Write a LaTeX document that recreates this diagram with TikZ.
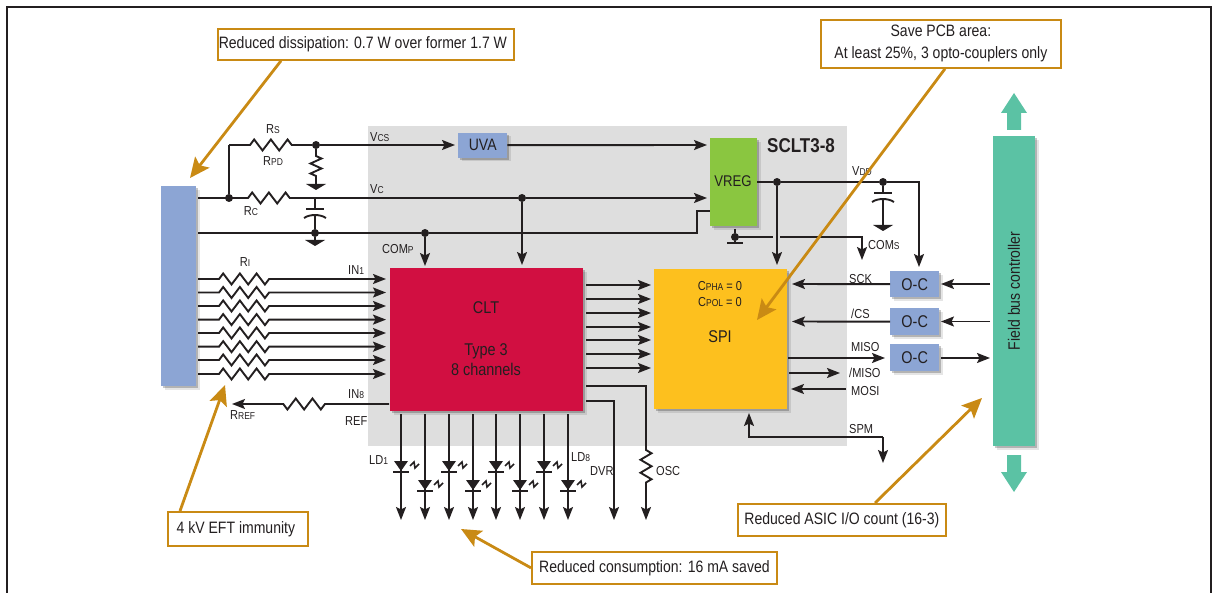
\documentclass[tikz,border=0pt]{standalone}
\usepackage{fontspec}
\setmainfont[FakeStretch=0.85]{Liberation Sans}
\usetikzlibrary{arrows.meta,decorations.pathmorphing,shadows,calc}
\definecolor{gold}{HTML}{C98A14}
\definecolor{tintblue}{HTML}{8CA5D4}
\definecolor{cltred}{HTML}{D10F41}
\definecolor{spiyel}{HTML}{FDC01E}
\definecolor{vgreen}{HTML}{8AC640}
\definecolor{teal2}{HTML}{5BC2A4}
\definecolor{panel}{HTML}{DEDEDE}
\definecolor{ink}{HTML}{231F20}
\newcommand{\sm}[1]{{\fontsize{10pt}{10pt}\selectfont #1}}
\tikzset{
 wire/.style={draw=ink,line width=1.9pt},
 arr/.style={wire,-{Stealth[length=13pt,width=10pt,inset=2.5pt]}},
 rarr/.style={wire,{Stealth[length=13pt,width=10pt,inset=2.5pt]}-},
 dot/.style={circle,fill=ink,inner sep=0pt,minimum size=8pt},
 res/.style={decoration={zigzag,segment length=16.7pt,amplitude=5.5pt}},
 vres/.style={decoration={zigzag,segment length=10pt,amplitude=5.5pt}},
 blockb/.style={rectangle,inner sep=0pt,anchor=north west,
   drop shadow={shadow xshift=3.5pt,shadow yshift=-3.5pt,opacity=.1,fill=black},
   drop shadow={shadow xshift=2pt,shadow yshift=-2pt,opacity=.22,fill=black}},
 call/.style={draw=gold,fill=white,line width=1.8pt,font=\fontsize{16.5pt}{22pt}\selectfont,align=center,inner sep=0pt,anchor=north west,text=ink},
 goldarr/.style={draw=gold,line width=2.8pt,-{Stealth[length=20pt,width=18pt,inset=4pt]}},
 lab/.style={font=\fontsize{13pt}{14pt}\selectfont,text=ink,inner sep=0pt},
 blk/.style={font=\fontsize{17pt}{20pt}\selectfont,text=ink,align=center,inner sep=0pt},
 gnd/.style={fill=ink,draw=none},
 capw/.style={draw=ink,line width=1.9pt},
 led/.style={fill=ink,draw=none},
 ledmark/.style={draw=ink,line width=1.6pt},
}
\newcommand{\gndat}[1]{\fill[gnd] ($(#1)+(-10,0)$) -- ($(#1)+(10,0)$) -- ($(#1)+(0,6)$) -- cycle;}
\newcommand{\capat}[1]{%
 \draw[capw] ($(#1)+(-9,0)$) -- ($(#1)+(9,0)$);
 \draw[capw] ($(#1)+(-11,9)$) .. controls ($(#1)+(-5,5)$) and ($(#1)+(5,5)$) .. ($(#1)+(11,9)$);}
\newcommand{\ledat}[1]{%
 \fill[led] ($(#1)+(-7,0)$) -- ($(#1)+(7,0)$) -- ($(#1)+(0,10)$) -- cycle;
 \draw[ledmark] ($(#1)+(-8,11)$) -- ($(#1)+(8,11)$);
 \draw[ledmark] ($(#1)+(9,5)$) -- ($(#1)+(13,1)$) -- ($(#1)+(14,7)$) -- ($(#1)+(18,3)$);}
\begin{document}
\begin{tikzpicture}[x=1pt,y=-1pt]
\useasboundingbox (0,0) rectangle (1218,593);
% frame
\coordinate (fa) at (7,593); \coordinate (fb) at (7,7); \coordinate (fc) at (1211,7); \coordinate (fd) at (1211,593);
\draw[ink,line width=2pt] (fa) -- (fb) -- (fc) -- (fd);
% panel
\node[fill=panel,inner sep=0pt,minimum width=479pt,minimum height=320pt,anchor=north west] (panel) at (368,126) {};
% blocks
\node[blockb,fill=tintblue,minimum width=35pt,minimum height=200pt] (conn) at (161,186) {};
\node[blockb,fill=tintblue,minimum width=49pt,minimum height=25pt] (uva) at (458,132.5) {};
\node[blk,font=\fontsize{16.5pt}{20pt}\selectfont] (uvat) at (uva.center) {UVA};
\node[blockb,fill=vgreen,minimum width=47pt,minimum height=88pt] (vreg) at (710,138) {};
\node[blk,font=\fontsize{15.5pt}{20pt}\selectfont] (vregt) at (733,181) {VREG};
\node[blockb,fill=cltred,minimum width=193pt,minimum height=143pt] (clt) at (390,268) {};
\node[blk] (clttxt) at (486,308) {CLT};
\node[blk] (clttxt2) at (486,360) {Type 3\\8 channels};
\node[blockb,fill=spiyel,minimum width=133pt,minimum height=140pt] (spi) at (654,269) {};
\node[blk] (spitxt) at (720,337) {SPI};
\node[lab] (cpha) at (720,286) {C\sm{PHA} = 0};
\node[lab] (cpol) at (720,302) {C\sm{POL} = 0};
\node[blockb,fill=teal2,minimum width=42pt,minimum height=310pt] (bus) at (993,136) {};
\node[blk,rotate=90,font=\fontsize{16.5pt}{16pt}\selectfont] (bustxt) at (1014,291) {Field bus controller};
\node[blockb,fill=tintblue,minimum width=49pt,minimum height=26pt] (oc1) at (890,271) {};
\node[blockb,fill=tintblue,minimum width=49pt,minimum height=27pt] (oc2) at (890,308) {};
\node[blockb,fill=tintblue,minimum width=49pt,minimum height=27pt] (oc3) at (890,344) {};
\node[blk] (oct1) at (oc1.center) {O-C};
\node[blk] (oct2) at (oc2.center) {O-C};
\node[blk] (oct3) at (oc3.center) {O-C};
% green double arrows
\coordinate (upa) at (1014,93); \coordinate (dna) at (1014,492);
\fill[teal2] (upa) -- ++(13,20) -- ++(-6,0) -- ++(0,17) -- ++(-14,0) -- ++(0,-17) -- ++(-6,0) -- cycle;
\fill[teal2] (dna) -- ++(13,-20) -- ++(-6,0) -- ++(0,-17) -- ++(-14,0) -- ++(0,17) -- ++(-6,0) -- cycle;
% top wires
\coordinate (ja) at (229,145); \node[dot] (jb) at (229,198) {};
\node[dot] (jc) at (316,145) {};
\draw[wire] (ja) -- (250,145) decorate[res,decoration={zigzag}] {-- (300,145)} -- (jc);
\draw[wire] (jb) -- (ja);
\draw[arr] (jc) -- (455,145);
\draw[arr] (uva.east) -- (707,145);
\coordinate (rg) at (316,184);
\draw[wire] (jc) -- (316,156) decorate[vres,decoration={zigzag}] {-- (316,178)} -- (rg);
\gndat{rg}
% Vc
\coordinate (cl) at (198,198);
\node[dot] (jd) at (522,198) {};
\draw[wire] (cl) -- (248,198) decorate[res,decoration={zigzag}] {-- (298,198)} -- (jd);
\draw[arr] (jd) -- (707,198);
\draw[arr] (jd) -- (522,265);
\coordinate (c1) at (315,209);
\node[dot] (je) at (315,233) {};
\draw[wire] (315,198) -- (c1);
\capat{c1}
\draw[wire] (315,215) -- (je) -- (315,240);
\coordinate (g2) at (315,240); \gndat{g2}
% COMp
\coordinate (cm) at (198,233);
\node[dot] (jf) at (425,233) {};
\draw[wire] (cm) -- (jf) -- (697,233) -- (697,211) -- (710,211);
\draw[arr] (jf) -- (425,266);
% inputs
\foreach \i/\y in {1/279,2/292.5,3/306,4/319.6,5/333,6/346.7,7/360,8/374}{
  \draw[arr] (198,\y) -- (219,\y) decorate[res,decoration={zigzag}] {-- (270,\y)} -- (386,\y);
}
% ref
\draw[arr] (389,404) -- (325,404) decorate[res,decoration={zigzag}] {-- (276,404)} -- (232,404);
% CLT to SPI
\foreach \y in {285,299,313,327,340,354,368}{\draw[arr] (586,\y) -- (651,\y);}
% DVR and OSC
\draw[arr] (586,401) -- (614,401) -- (614,520);
\draw[arr] (586,386) -- (646,386) -- (646,450) decorate[vres,decoration={zigzag,segment length=13pt}] {-- (646,488)} -- (646,520);
% LEDs
\foreach \x/\y in {401/461,425/480,449/461,473/480,496/461,520/480,544/461,568/480}{
  \draw[arr] (\x,414) -- (\x,520);
  \coordinate (ld) at (\x,\y);
  \ledat{ld}
}
% VDD
\node[dot] (jg) at (777,182) {};
\node[dot] (jh) at (883,182) {};
\draw[wire] (vreg.east |- jg) -- (jg) -- (jh);
\draw[arr] (jh) -- (919,182) -- (919,267);
\draw[arr] (jg) -- (777,265);
\coordinate (c2) at (883,193);
\draw[wire] (jh) -- (c2);
\capat{c2}
\coordinate (g3) at (883,225);
\draw[wire] (883,199) -- (g3);
\gndat{g3}
% COMs
\node[dot] (ji) at (735,237) {};
\draw[wire] (735,229) -- (ji) -- (735,243);
\coordinate (t1) at (735,243);
\draw[wire] (727,243) -- (743,243);
\draw[wire] (ji) -- (773,237);
\draw[arr] (780,237) -- (862,237) -- (862,260);
% SPI right
\draw[arr] (oc1.west) -- (792,284);
\draw[arr] (oc2.west) -- (792,321.5);
\draw[arr] (788,358) -- (885,358);
\draw[arr] (789,373) -- (840,373);
\draw[arr] (846,389) -- (791,389);
\draw[arr] (990,284) -- (941,284);
\draw[arr] (990,321.5) -- (941,321.5);
\draw[arr] (941,358) -- (990,358);
\draw[rarr] (749,413) -- (749,437) -- (883,437);
\draw[arr] (883,437) -- (883,463);
% labels
\node[lab] (l1) at (273,129) {R\sm{S}};
\node[lab] (l2) at (273,161) {R\sm{PD}};
\node[lab] (l3) at (251,211) {R\sm{C}};
\node[lab,anchor=west] (l4) at (370,137) {V\sm{CS}};
\node[lab,anchor=west] (l5) at (370,189) {V\sm{C}};
\node[lab,anchor=west] (l6) at (382,249) {COM\sm{P}};
\node[lab] (l7) at (245,262) {R\sm{I}};
\node[lab,anchor=west] (l8) at (348,270) {IN\sm{1}};
\node[lab,anchor=west] (l9) at (348,394) {IN\sm{8}};
\node[lab,anchor=west] (l10) at (345,421) {REF};
\node[lab,anchor=west] (l11) at (230,415) {R\sm{REF}};
\node[lab,anchor=west] (l12) at (369,460) {LD\sm{1}};
\node[lab,anchor=west] (l13) at (571,457) {LD\sm{8}};
\node[lab,anchor=west] (l14) at (590,471) {DVR};
\node[lab,anchor=west] (l15) at (656,471) {OSC};
\node[lab,anchor=west] (l16) at (852,171) {V\sm{DD}};
\node[lab,anchor=west] (l17) at (868,245) {COM\sm{S}};
\node[lab,anchor=west] (l18) at (849,279) {SCK};
\node[lab,anchor=west] (l19) at (851,314) {/CS};
\node[lab,anchor=west] (l20) at (851,347) {MISO};
\node[lab,anchor=west] (l21) at (849,373) {/MISO};
\node[lab,anchor=west] (l22) at (851,391) {MOSI};
\node[lab,anchor=west] (l23) at (849,429) {SPM};
\node[font=\bfseries\fontsize{20pt}{20pt}\selectfont,text=ink,inner sep=0pt,anchor=west] (sclt) at (767,146) {SCLT3-8};
% callouts
\node[call,minimum width=296pt,minimum height=31pt] (c1box) at (217,28) {\hspace*{-6pt}Reduced dissipation: 0.7 W over former 1.7 W};
\node[call,minimum width=240pt,minimum height=48pt] (c2box) at (820,19) {Save PCB area:\\At least 25\%, 3 opto-couplers only};
\node[call,minimum width=140pt,minimum height=34pt] (c3box) at (167,511) {\hspace*{-4pt}4 kV EFT immunity};
\node[call,minimum width=208pt,minimum height=32pt] (c4box) at (737,503) {Reduced ASIC I/O count (16-3)};
\node[call,minimum width=245pt,minimum height=32pt] (c5box) at (531,551) {Reduced consumption: 16 mA saved};
\coordinate (t1a) at (190,178); \coordinate (t2a) at (757,320); \coordinate (t3a) at (225,385); \coordinate (t4a) at (982,398); \coordinate (t5a) at (461,529);
\draw[goldarr] (c1box.south -| 281,0) -- (t1a);
\draw[goldarr] (c2box.south -| 945,0) -- (t2a);
\draw[goldarr] (c3box.north -| 180,0) -- (t3a);
\draw[goldarr] (c4box.north -| 875,0) -- (t4a);
\draw[goldarr] (c5box.west) -- (t5a);
\end{tikzpicture}
\end{document}
